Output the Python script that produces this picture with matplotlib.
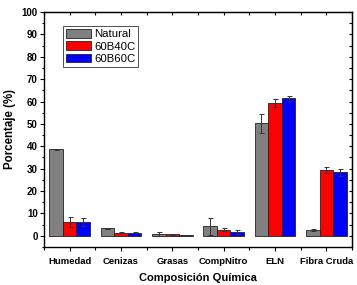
import matplotlib
matplotlib.use("Agg")
import matplotlib.pyplot as plt
import numpy as np

categories = ["Humedad", "Cenizas", "Grasas", "CompNitro", "ELN", "Fibra Cruda"]
natural = [38.6, 3.3, 0.8, 4.3, 50.2, 2.5]
natural_err = [0.3, 0.3, 0.8, 3.8, 4.2, 0.5]
b40 = [6.3, 1.3, 0.6, 2.7, 59.2, 29.4]
b40_err = [2.2, 0.2, 0.3, 0.6, 1.8, 1.4]
b60 = [6.3, 1.3, 0.3, 1.7, 61.4, 28.3]
b60_err = [1.8, 0.2, 0.2, 0.9, 1.2, 1.5]
series_names = ["Natural", "60B40C", "60B60C"]
colors = ["#808080", "#ff0000", "#0000ff"]

plt.rcParams['font.family'] = ['Liberation Sans', 'DejaVu Sans']
fig = plt.figure(figsize=(3.57, 2.85), dpi=100)
ax = fig.add_axes([0.1232, 0.1333, 0.8628, 0.8247])

x = np.arange(len(categories))
w = 0.265
for i, (vals, errs, name, c) in enumerate(zip([natural, b40, b60], [natural_err, b40_err, b60_err], series_names, colors)):
    ax.bar(x + (i - 1) * w, vals, w, color=c, edgecolor="#222222", linewidth=0.6, label=name,
           yerr=errs, error_kw=dict(ecolor="#333333", elinewidth=0.7, capsize=1.8, capthick=0.7))

ax.set_xlim(-0.5, len(categories) - 0.5)
ax.set_ylim(-5, 100)
yt = np.arange(0, 101, 10)
ytm = np.arange(-5, 100, 5)
xtm = np.arange(-0.5, len(categories), 1.0)
ax.set_yticks(yt)
ax.set_yticks(ytm, minor=True)
ax.set_xticks(x)
ax.set_xticks(xtm, minor=True)
ax.set_xticklabels(categories, fontsize=6.8, fontweight="bold")
for lab in ax.get_yticklabels():
    lab.set_fontsize(7)
    lab.set_fontweight("bold")
ax.tick_params(which="both", direction="out", width=0.8)
ax.tick_params(which="major", length=3, pad=1.5)
ax.tick_params(which="minor", length=1.8)
ax.tick_params(axis="x", which="major", pad=4)
for s in ax.spines.values():
    s.set_linewidth(1.0)

top = ax.secondary_xaxis("top")
top.set_xticks(x)
top.set_xticks(xtm, minor=True)
top.tick_params(which="both", direction="in", length=2.5, width=0.8, labeltop=False)
right = ax.secondary_yaxis("right")
right.set_yticks(yt)
right.set_yticks(ytm, minor=True)
right.tick_params(which="both", direction="in", length=2.2, width=0.8, labelright=False)

ax.set_xlabel("Composición Química", fontsize=8, fontweight="bold", labelpad=5)
ax.set_ylabel("Porcentaje (%)", fontsize=8.3, fontweight="bold", labelpad=4)

leg = ax.legend(loc="upper left", bbox_to_anchor=(0.062, 0.94), fontsize=8.2, frameon=True,
                fancybox=False, edgecolor="#222222", handlelength=2.2, handleheight=0.8,
                borderpad=0.25, labelspacing=0.18, handletextpad=0.3, borderaxespad=0)
leg.get_frame().set_linewidth(0.7)

fig.savefig("out.png", dpi=100)
